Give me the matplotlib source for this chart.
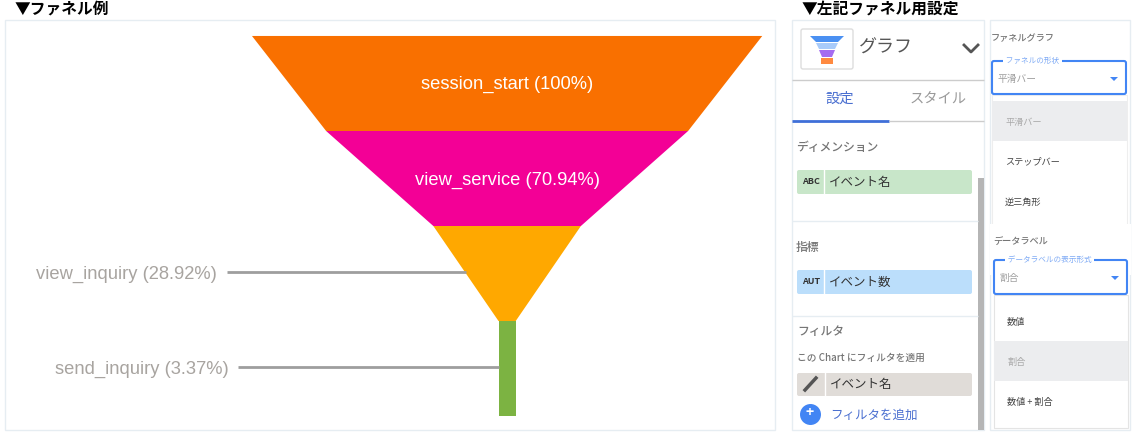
import matplotlib
matplotlib.use('Agg')
import matplotlib.pyplot as plt
from matplotlib.patches import Polygon, Rectangle, FancyBboxPatch

plt.rcParams['font.family'] = ['Noto Sans CJK JP', 'DejaVu Sans']

W, H = 1137, 437

# ファネルのデータ
steps = ['session_start', 'view_service', 'view_inquiry', 'send_inquiry']
percent = [100, 70.94, 28.92, 3.37]
percent_labels = ['100%', '70.94%', '28.92%', '3.37%']
colors = ['#F97000', '#F30096', '#FFA800', '#7CB342']

# 右側の設定パネルの文字
tabs = ['設定', 'スタイル']
shape_options = ['平滑バー', 'ステップバー', '逆三角形']
label_options = ['数値', '割合', '数値 + 割合']

BORDER = '#E6EDF2'
GRAY = '#757575'
BLUE = '#4285F4'

fig = plt.figure(figsize=(W / 100, H / 100), dpi=100, facecolor='white')


def px(x0, y0, x1, y1):
    return [x0 / W, 1 - y1 / H, (x1 - x0) / W, (y1 - y0) / H]


# 画面全体をピクセル座標で扱う軸
ui = fig.add_axes([0, 0, 1, 1])
ui.set_xlim(0, W)
ui.set_ylim(H, 0)
ui.axis('off')


def box(x0, y0, x1, y1, fc='white', ec='none', lw=1.0, z=1):
    ui.add_patch(Rectangle((x0, y0), x1 - x0, y1 - y0, fc=fc, ec=ec, lw=lw, zorder=z))


def rbox(x0, y0, x1, y1, fc='white', ec='none', lw=1.0, z=1):
    ui.add_patch(FancyBboxPatch((x0 + 2, y0 + 2), x1 - x0 - 4, y1 - y0 - 4,
                                boxstyle='round,pad=2,rounding_size=2',
                                fc=fc, ec=ec, lw=lw, zorder=z))


def hline(y, x0, x1, color=BORDER, lw=1.0, z=2):
    ui.plot([x0, x1], [y, y], color=color, lw=lw, zorder=z, solid_capstyle='butt')


def label(x, y, s, size=8, color='#333333', ha='left', weight='normal', z=6):
    # CJK フォントは少し上に出るので 1px 下げる
    ui.text(x, y + 1, s, fontsize=size, color=color, ha=ha, va='center', weight=weight, zorder=z)


# 見出し
label(15, 8, '▼ファネル例', size=11.3, color='black', weight='bold')
label(802, 8, '▼左記ファネル用設定', size=11.3, color='black', weight='bold')

# 枠
box(5, 20, 775, 430, ec=BORDER)
box(792, 20, 984, 430, ec=BORDER)
box(990, 20, 1130, 430, ec=BORDER)

# ファネル本体（横軸は割合、縦軸は段数）
ax = fig.add_axes(px(5, 20, 775, 430))
ax.set_xlim(-98.4, 52.5)
ax.set_ylim(4.147, -0.168)
ax.axis('off')
ax.patch.set_alpha(0)

widths = percent + [percent[-1]]
for i, name in enumerate(steps):
    top = widths[i] / 2
    bottom = widths[i + 1] / 2
    ax.add_patch(Polygon([(-top, i), (top, i), (bottom, i + 1), (-bottom, i + 1)],
                         closed=True, fc=colors[i], ec='none'))
    text = f'{name} ({percent_labels[i]})'
    if i < 2:
        ax.text(0.1, i + 0.515, text, color='white', fontsize=13.2, ha='center', va='center',
                family='Liberation Sans')
    else:
        edge = -(top + bottom) / 2
        stop = {2: -54.9, 3: -52.7}[i]
        ax.plot([stop, edge], [i + 0.485, i + 0.485], color='#9E9E9E', lw=2, solid_capstyle='butt')
        ax.text(stop - 1.9, i + 0.505, text, color='#A8A4A0', fontsize=13.2, ha='right', va='center',
                family='Liberation Sans')

# 左パネル：グラフ選択
rbox(801, 29, 853, 69, ec='#DDDDDD')
for k, (x0, x1, x2, x3, y0, y1, c) in enumerate([
        (810, 844, 838, 816, 36, 42, '#4A90F2'),
        (816, 838, 835, 819, 43, 49, '#A8CBFA'),
        (819, 835, 832, 822, 50, 57, '#A56CF0'),
        (821, 833, 833, 821, 58, 64, '#FF8A40')]):
    ui.add_patch(Polygon([(x0, y0), (x1, y0), (x2, y1), (x3, y1)], fc=c, ec='none', zorder=3))
label(859, 47, 'グラフ', size=13, color='#555555')
ui.plot([964, 971, 978], [45, 52, 45], color='#555555', lw=2, zorder=3)
hline(80, 792, 984, color='#CCCCCC')

# タブ
label(840, 98, tabs[0], size=10.3, color='#4A6FD0', ha='center')
label(938, 98, tabs[1], size=10.3, color='#9A9A9A', ha='center')
hline(120.5, 792, 889, color='#3F6FD8', lw=2)
hline(120.5, 889, 984, color='#CCCCCC')

# スクロールバー
box(978, 178, 984, 430, fc='#B5B5B5')

# ディメンション
label(796, 146, 'ディメンション', size=8.5, color=GRAY, weight='medium')
rbox(797, 170, 972, 194, fc='#C8E6C9')
label(811, 181, 'ABC', size=6.5, color='#333333', ha='center', weight='bold')
ui.plot([823.5, 823.5], [170, 194], color='white', lw=1, zorder=3)
label(829, 181, 'イベント名', size=9, color='#333333')
hline(221, 792, 978)

# 指標
label(796, 247, '指標', size=8.5, color=GRAY, weight='medium')
rbox(797, 270, 972, 294, fc='#BBDEFB')
label(811, 281, 'AUT', size=6.5, color='#333333', ha='center', weight='bold')
ui.plot([823.5, 823.5], [270, 294], color='white', lw=1, zorder=3)
label(829, 281, 'イベント数', size=9, color='#333333')
hline(316, 792, 978)

# フィルタ
label(797, 331, 'フィルタ', size=8.5, color=GRAY, weight='medium')
label(797, 357, 'この Chart にフィルタを適用', size=7, color=GRAY, weight='medium')
rbox(797, 373, 972, 396, fc='#E0DCD8')
ui.plot([805, 816], [390, 378], color='#555555', lw=2.5, zorder=3)
ui.plot([824.5, 824.5], [373, 396], color='white', lw=1, zorder=3)
label(830, 383, 'イベント名', size=9, color='#333333')
ui.scatter([810], [414], s=228, color=BLUE, zorder=3, linewidths=0)
label(810, 412, '+', size=10, color='white', ha='center', weight='bold')
label(830, 414, 'フィルタを追加', size=9, color='#4A6FD0')


def dropdown(x0, x1, y_head, y0, y1, head, legend, value, options, opt_tops, active):
    label(x0 - 1, y_head, head, size=6.6, color=GRAY, weight='medium')
    rbox(x0, y0, x1, y1, ec=BLUE, lw=1.5, z=3)
    ui.text(x0 + 12, y0, ' ' + legend + ' ', fontsize=5.5, color='#7FAAF5', va='center',
            zorder=6, bbox=dict(fc='white', ec='none', pad=0.5))
    label(x0 + 5, y0 + 17, value, size=7, color='#9E9E9E')
    ui.add_patch(Polygon([(x1 - 16, y0 + 16), (x1 - 8, y0 + 16), (x1 - 12, y0 + 20)],
                         fc=BLUE, ec='none', zorder=5))
    for k, opt in enumerate(options):
        top = opt_tops[k]
        if k == active:
            box(x0, top, x1 + 1, top + 40, fc='#ECEDEF', z=4)
        label(x0 + 13, top + 20, opt, size=6.6,
              color='#AAAAAA' if k == active else '#444444')


# 右パネル：ファネルの形状
box(992, 95, 1127, 225, fc='white', ec='#EEEEEE', lw=0.8, z=2)
dropdown(992, 1126, 38, 61, 94, 'ファネルグラフ', 'ファネルの形状', '平滑バー',
         shape_options, [101, 141, 181], 0)

# 右パネル：データラベル
box(990, 224, 1131, 275, fc='white', z=3)
box(994, 295, 1128, 428, fc='white', ec='#E4E4E4', lw=0.8, z=3)
dropdown(994, 1127, 240, 260, 294, 'データラベル', 'データラベルの表示形式', '割合',
         label_options, [301, 341, 381], 1)

fig.savefig('out.png', dpi=100)
